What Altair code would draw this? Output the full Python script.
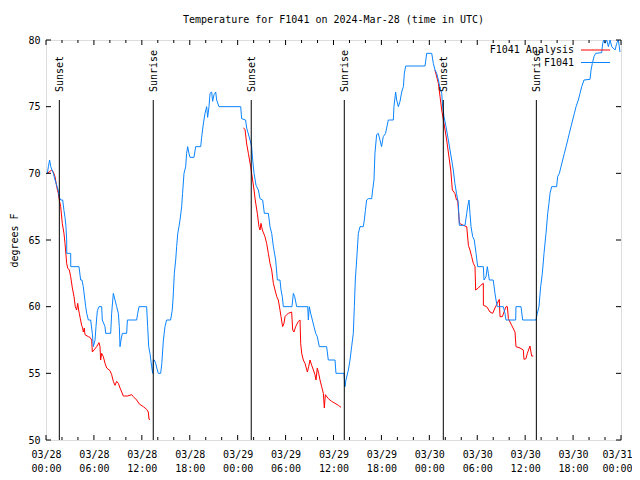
import altair as alt
import pandas as pd

# ---------------- data ----------------
# F1041 observations (hours since 2024-03-28 00:00 UTC, degrees F)
obs_h = [0.17, 0.3, 0.45, 0.6, 0.92, 1.13, 1.34, 1.54, 1.67, 1.84, 2.09, 2.25, 2.38, 2.5, 2.59, 2.6,
         3.09, 3.1, 4.13, 4.34, 4.5, 4.67, 4.97, 5.1, 5.3, 5.59, 5.8, 5.93, 6.14, 6.26, 6.43, 6.64,
         6.97, 7.05, 7.39, 7.47, 8.1, 8.22, 8.43, 8.64, 8.85, 9.06, 9.18, 9.27, 9.39, 9.56, 10.1,
         10.19, 11.35, 11.48, 11.65, 12.6, 12.73, 12.86, 13.02, 13.23, 13.36, 13.45, 13.57, 13.73,
         13.94, 14.07, 14.36, 14.5, 14.7, 14.9, 15.1, 15.6, 15.8, 15.9, 16.07, 16.24, 16.36, 16.5,
         16.65, 16.78, 16.99, 17.1, 17.28, 17.49, 17.61, 17.74, 17.9, 18.03, 18.53, 18.74, 19.37,
         19.49, 19.7, 19.91, 20.12, 20.24, 20.41, 20.54, 20.74, 20.87, 21.04, 21.25, 21.37, 21.66,
         24.38, 24.5, 24.99, 25.13, 25.55, 25.75, 25.88, 26.05, 26.3, 26.59, 26.8, 27.13, 27.34,
         27.84, 28.05, 28.26, 28.47, 28.76, 28.97, 29.3, 29.43, 29.59, 29.72, 30.8, 30.97, 31.14,
         31.39, 32.77, 32.85, 32.97, 33.14, 33.35, 33.56, 33.77, 33.97, 34.22, 35.14, 35.35, 36.19,
         36.31, 37.31, 37.44, 37.56, 37.86, 38.07, 38.27, 38.48, 38.61, 38.73, 38.9, 39.11, 39.32,
         39.73, 39.86, 39.99, 40.15, 40.36, 40.78, 40.9, 41.07, 41.19, 41.4, 41.61, 41.82, 42.02,
         42.23, 42.52, 42.86, 42.99, 43.49, 43.57, 43.78, 43.91, 44.12, 44.33, 44.54, 44.75, 44.87,
         45.04, 47.46, 47.67, 48.3, 48.5, 48.71, 48.92, 49.13, 49.34, 49.55, 49.67, 49.84, 50.09,
         50.38, 50.59, 50.8, 51.0, 51.2, 51.4, 51.63, 51.76, 52.47, 52.68, 52.8, 52.97, 53.09,
         53.22, 53.43, 53.63, 53.85, 54.05, 54.76, 54.85, 55.1, 55.26, 55.39, 55.51, 56.0, 56.22,
         56.35, 56.51, 57.26, 57.47, 57.6, 58.81, 58.85, 59.48, 59.69, 61.35, 61.52, 61.73, 61.94,
         62.15, 62.36, 62.61, 62.82, 62.98, 63.11, 63.32, 63.94, 64.07, 64.28, 64.49, 64.7, 64.91,
         65.12, 65.33, 65.53, 65.74, 65.95, 66.16, 66.37, 66.66, 66.87, 67.08, 67.37, 68.12, 68.25,
         68.41, 68.62, 68.83, 69.58, 69.71, 69.83, 70.0, 70.21, 70.42, 70.63, 70.84, 71.26, 71.46,
         71.67, 71.88]
obs_t = [70.0, 70.5, 71.0, 70.5, 70.0, 69.5, 69.1, 68.7, 68.2, 68.0, 68.0, 67.2, 66.7, 66.0, 65.0, 64.0,
         64.0, 63.0, 63.0, 62.0, 62.0, 61.5, 60.0, 59.5, 59.0, 59.0, 58.0, 57.0, 57.5, 58.5, 59.7, 60.0,
         60.0, 59.0, 58.5, 58.0, 58.0, 59.5, 61.0, 60.5, 60.0, 59.5, 58.5, 57.0, 57.5, 58.0, 58.0,
         59.0, 59.0, 59.5, 60.0, 60.0, 58.5, 57.0, 56.5, 55.5, 55.0, 56.0, 56.0, 55.75,
         55.25, 55.0, 55.0, 55.75, 57.5, 58.5, 59.0, 59.0, 59.7, 60.5, 62.5, 63.5, 64.5, 65.5,
         66.0, 66.5, 67.5, 68.5, 70.0, 70.5, 71.5, 72.0, 71.5, 71.2, 71.2, 72.0, 72.0,
         72.7, 73.7, 74.5, 75.0, 74.2, 75.0, 76.0, 76.1, 75.4, 75.9, 76.1, 75.5, 75.0,
         75.0, 74.1, 74.0, 73.4, 72.5, 72.0, 71.0, 70.0, 69.1, 68.75, 68.1, 68.0, 67.0,
         67.0, 66.0, 65.5, 64.5, 63.5, 62.0, 62.0, 61.25, 60.75, 60.0, 60.0, 61.0, 60.75,
         60.0, 60.0, 59.0, 60.0, 59.5, 59.0, 58.5, 58.0, 57.75, 57.0, 57.0, 56.0, 56.0,
         55.0, 55.0, 54.0, 54.5, 55.25, 56.0, 57.0, 58.0, 60.0, 62.0, 63.5, 65.5, 66.0,
         66.0, 66.5, 67.2, 68.0, 68.1, 68.1, 68.75, 69.5, 71.5, 72.9, 73.0, 72.5, 72.0,
         72.75, 73.0, 74.0, 74.0, 74.0, 75.0, 76.1, 75.5, 75.0, 75.4, 76.1, 76.5, 77.5,
         78.05, 78.05, 79.0, 79.0, 78.25, 77.75, 77.5, 77.0, 76.4, 76.0, 75.0, 74.25, 73.5,
         72.5, 71.75, 71.0, 70.25, 69.25, 68.5, 67.75, 66.1, 66.1, 67.0, 67.5, 68.0, 67.0,
         66.0, 65.25, 65.0, 64.0, 63.0, 63.0, 62.0, 62.25, 63.0, 62.5, 62.0, 62.0, 61.0,
         60.5, 60.0, 60.0, 59.5, 59.0, 59.0, 60.0, 60.0, 59.0, 59.0, 59.5, 60.0, 61.5,
         62.5, 64.0, 65.5, 67.0, 67.75, 68.5, 69.0, 69.0, 69.75, 70.0, 70.5, 71.0, 71.5,
         72.0, 72.5, 73.0, 73.5, 74.0, 74.5, 75.0, 75.5, 76.0, 76.5, 77.0, 77.05, 77.75,
         78.25, 78.75, 79.0, 79.05, 79.75, 80.0, 79.75, 80.0, 79.5, 80.0, 79.5, 79.25, 79.75,
         80.0, 79.1]

# F1041 Analysis, three separate night segments
ana1_h = [0.17, 0.71, 0.92, 1.13, 1.34, 1.54, 1.67, 1.84, 2.04, 2.25, 2.38, 2.59, 2.71, 2.92, 3.09,
          3.3, 3.51, 3.67, 3.84, 3.97, 4.09, 4.17, 4.3, 4.46, 4.59, 4.67, 4.8, 4.88, 5.3, 5.51, 5.72,
          5.8, 6.01, 6.34, 6.64, 6.76, 6.84, 6.97, 7.18, 7.39, 7.6, 8.01, 8.22, 8.43, 8.64, 8.85,
          9.06, 9.27, 9.48, 9.68, 10.19, 10.73, 10.94, 11.35, 11.69, 12.19, 12.6, 12.81, 12.9, 13.02]
ana1_t = [70.0, 70.25, 70.1, 69.75, 69.0, 68.5, 68.0, 67.5, 66.25, 65.5, 64.75, 63.25, 62.9, 62.75, 62.25,
          61.4, 60.75, 60.0, 59.75, 60.25, 59.75, 59.5, 59.1, 58.6, 58.4, 58.1, 58.4, 57.9, 57.75, 57.7, 57.5,
          56.6, 56.75, 57.0, 57.3, 57.0, 56.0, 56.5, 56.25, 55.75, 55.4, 55.2, 54.9, 54.4, 54.1, 54.4,
          54.25, 53.9, 53.6, 53.3, 53.3, 53.4, 53.25, 53.0, 52.7, 52.5, 52.3, 52.1, 51.55, 51.55]
ana2_h = [24.71, 24.92, 25.13, 25.34, 25.63, 25.75, 26.05, 26.2, 26.46, 26.67, 26.8, 26.92, 27.09, 27.42,
          27.63, 27.84, 28.05, 28.26, 28.47, 28.68, 28.89, 29.09, 29.3, 29.43, 29.63, 29.8, 29.93, 30.14,
          30.35, 30.76, 30.89, 31.05, 31.26, 31.6, 31.81, 31.89, 32.02, 32.22, 32.43, 32.73, 32.89, 33.06,
          33.27, 33.48, 33.68, 33.81, 33.97, 34.14, 34.31, 34.52, 34.73, 34.85, 34.98, 35.35, 35.77, 36.19,
          36.61, 36.94]
ana2_t = [73.4, 73.3, 72.2, 71.5, 70.5, 70.0, 68.75, 68.0, 67.0, 66.0, 65.75, 66.25, 65.75, 65.25,
          64.75, 64.0, 63.25, 62.75, 61.75, 61.25, 60.75, 60.5, 59.75, 59.25, 58.5, 58.75, 59.25, 59.4,
          59.5, 59.6, 58.25, 58.1, 58.5, 58.9, 59.0, 57.25, 56.5, 56.0, 55.75, 55.1, 55.5, 56.0,
          55.6, 55.25, 54.9, 54.5, 55.4, 55.0, 54.5, 54.0, 53.5, 52.4, 53.4, 53.1, 52.9, 52.75,
          52.6, 52.45]
ana3_h = [48.71, 49.13, 49.34, 49.55, 49.76, 49.97, 50.17, 50.51, 50.68, 50.88, 51.2, 51.4, 51.55, 51.76,
          52.26, 52.68, 52.89, 53.09, 53.3, 53.51, 53.72, 53.8, 54.14, 54.43, 54.76, 54.77, 55.18, 55.6,
          55.93, 56.22, 56.51, 56.76, 56.85, 57.14, 57.35, 57.6, 57.77, 57.9, 58.31, 58.73, 58.85, 59.35,
          59.77, 59.85, 60.1, 60.27, 60.6, 60.73, 60.81, 61.02]
ana3_t = [77.75, 76.75, 75.75, 74.75, 74.0, 73.25, 72.5, 71.0, 70.25, 68.75, 68.5, 68.0, 68.0, 66.25,
          66.1, 66.0, 64.6, 64.25, 63.75, 63.25, 63.0, 61.25, 61.4, 61.6, 61.75, 60.1, 60.0, 59.6,
          59.5, 59.9, 60.25, 60.55, 59.25, 59.25, 59.6, 60.0, 60.0, 59.1, 58.6, 58.1, 57.0, 56.9,
          56.75, 56.05, 56.1, 56.5, 57.05, 56.6, 56.3, 56.3]

sun_h = [1.67, 13.43, 25.7, 37.35, 49.75, 61.4]
sun_label = ["Sunset", "Sunrise", "Sunset", "Sunrise", "Sunset", "Sunrise"]

major_h = list(range(0, 73, 6))
minor_h = [h for h in range(0, 73, 2) if h % 6 != 0]
y_ticks = [50, 55, 60, 65, 70, 75, 80]

legend_names = ["F1041 Analysis", "F1041"]
legend_colors = ["#ff0000", "#0a84ff"]

FONT = "DejaVu Sans Mono"
W, H = 575, 400
BLUE = "#0a84ff"
RED = "#ff0000"

# ---------------- frames ----------------
obs = pd.DataFrame({"h": obs_h, "t": obs_t})
ana = pd.concat([
    pd.DataFrame({"h": ana1_h, "t": ana1_t, "seg": 1}),
    pd.DataFrame({"h": ana2_h, "t": ana2_t, "seg": 2}),
    pd.DataFrame({"h": ana3_h, "t": ana3_t, "seg": 3}),
])
sun = pd.DataFrame({"h": sun_h, "label": sun_label})
maj = pd.DataFrame({"h": major_h})
mnr = pd.DataFrame({"h": minor_h})
yt = pd.DataFrame({"t": y_ticks})

xs = alt.Scale(domain=[0, 72], nice=False, zero=False)
ys = alt.Scale(domain=[50, 80], nice=False, zero=False)

label_expr = ("['03/' + (28 + floor(datum.value / 24)), "
              "(datum.value % 24 < 10 ? '0' : '') + (datum.value % 24) + ':00']")

x_axis = alt.Axis(values=major_h, labelExpr=label_expr, title=None, grid=False, ticks=False,
                  domain=False, labelFont=FONT, labelFontSize=10, labelColor="black",
                  labelPadding=9, labelLineHeight=14, labelBaseline="top", labelFlush=False,
                  labelOverlap=False,
                  labelOffset={"condition": {"test": "datum.value >= 72", "value": -4}, "value": 0})
y_axis = alt.Axis(values=y_ticks, title="degrees F", grid=False, ticks=False, domain=False,
                  labelFont=FONT, labelFontSize=10, labelColor="black", labelPadding=6,
                  titleFont=FONT, titleFontSize=10, titleFontWeight="normal", titleColor="black",
                  titleX=-32, titleY=H / 2, titleAngle=270, titleAlign="center",
                  titleBaseline="middle")

ana_line = alt.Chart(ana).mark_line(color=RED, strokeWidth=1, interpolate="linear").encode(
    x=alt.X("h:Q", scale=xs, axis=x_axis), y=alt.Y("t:Q", scale=ys, axis=y_axis),
    detail="seg:N", order="h:Q")
obs_line = alt.Chart(obs).mark_line(color=BLUE, strokeWidth=1, interpolate="linear").encode(
    x=alt.X("h:Q", scale=xs), y=alt.Y("t:Q", scale=ys), order="h:Q")

sun_rule = alt.Chart(sun).mark_rule(color="black", strokeWidth=1).encode(
    x=alt.X("h:Q", scale=xs), y=alt.value(60), y2=alt.value(H))
sun_text = alt.Chart(sun).mark_text(angle=270, align="left", baseline="middle", font=FONT,
                                    fontSize=10, color="black", dy=1).encode(
    x=alt.X("h:Q", scale=xs), y=alt.value(52), text="label:N")

# inward ticks (gnuplot style), mirrored on all four sides
def xticks(df, length):
    b = alt.Chart(df).mark_rule(color="black", strokeWidth=1).encode(
        x=alt.X("h:Q", scale=xs), y=alt.value(H), y2=alt.value(H - length))
    t = alt.Chart(df).mark_rule(color="black", strokeWidth=1).encode(
        x=alt.X("h:Q", scale=xs), y=alt.value(0), y2=alt.value(length))
    return b + t

yl = alt.Chart(yt).mark_rule(color="black", strokeWidth=1).encode(
    y=alt.Y("t:Q", scale=ys), x=alt.value(0), x2=alt.value(5))
yr = alt.Chart(yt).mark_rule(color="black", strokeWidth=1).encode(
    y=alt.Y("t:Q", scale=ys), x=alt.value(W), x2=alt.value(W - 5))

# key (text left, sample line right, as gnuplot draws it)
key_layers = []
for i, (name, col) in enumerate(zip(legend_names, legend_colors)):
    kd = pd.DataFrame({"name": [name], "color": [col]})
    ypix = 10 + 12.5 * i
    key_layers.append(alt.Chart(kd).mark_text(align="right", baseline="middle", font=FONT,
                                              fontSize=10, color="black").encode(
        x=alt.value(528), y=alt.value(ypix), text="name:N"))
    key_layers.append(alt.Chart(kd).mark_rule(strokeWidth=1).encode(
        x=alt.value(535), x2=alt.value(564), y=alt.value(ypix),
        color=alt.Color("color:N", scale=None)))

chart = alt.layer(
    ana_line, obs_line, sun_rule, sun_text,
    xticks(maj, 5), xticks(mnr, 3), yl, yr,
    *key_layers,
).properties(
    width=W, height=H,
    title=alt.TitleParams("Temperature for F1041 on 2024-Mar-28 (time in UTC)", font=FONT,
                          fontSize=10, fontWeight="normal", color="black", anchor="middle",
                          offset=10),
    autosize=alt.AutoSizeParams(type="none"),
    padding={"left": 38, "top": 32, "right": 11, "bottom": 36},
).configure_view(stroke="black", strokeWidth=1).configure(background="white")

chart.save("out.html", embed_options={"renderer": "svg", "actions": False})
